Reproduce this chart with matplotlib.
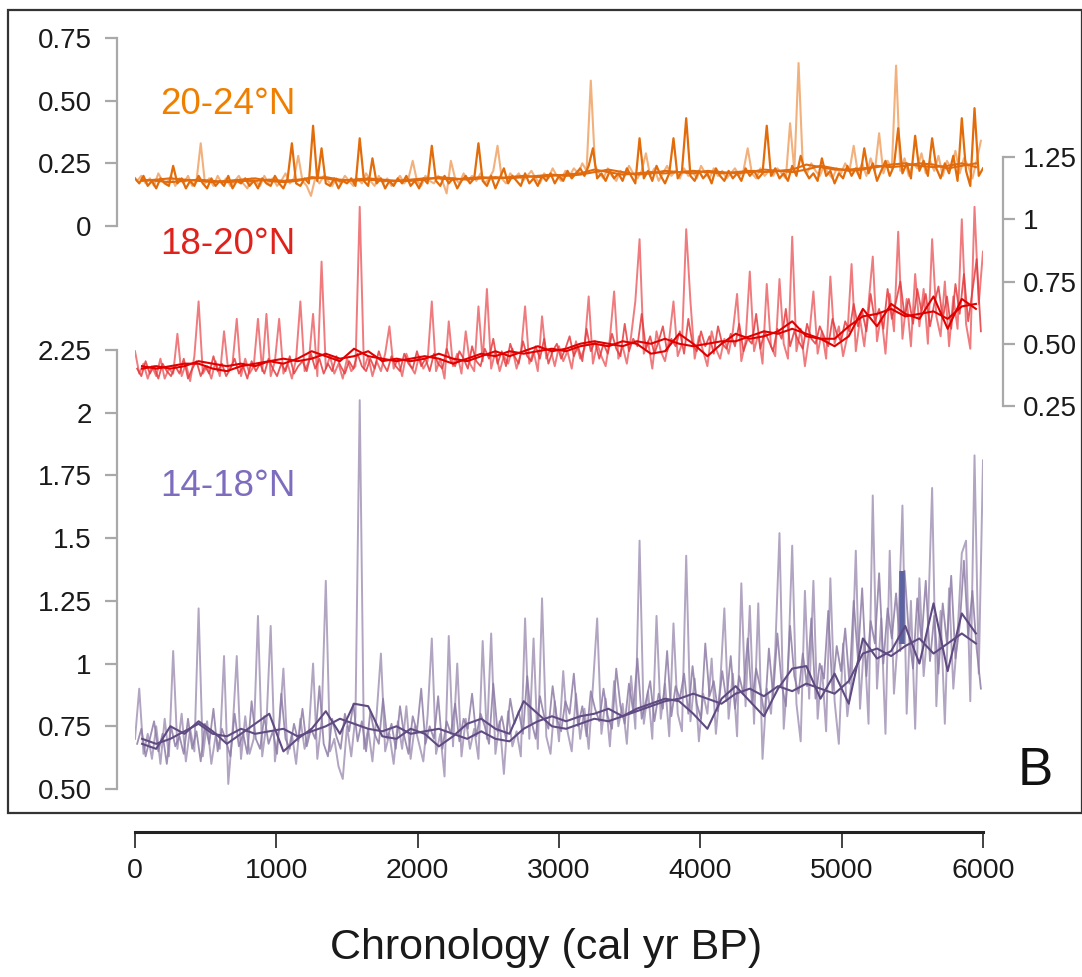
import numpy as np
import matplotlib
matplotlib.use("Agg")
import matplotlib.pyplot as plt
from matplotlib.patches import Rectangle

# canvas size in pixels (dpi 100)
W, H = 1082, 977

# sampling steps (yr BP) of the digitised records
STEP_RAW = 30      # raw series A start at 0, series B start at 15
STEP_SMOOTH = 100  # smoothed series start at 50

# ---- 20-24°N (orange), left axis 0 - 0.75
orange_dark = [
    0.19, 0.17, 0.20, 0.16, 0.18, 0.15, 0.19, 0.17, 0.16, 0.24,
    0.17, 0.19, 0.15, 0.18, 0.16, 0.20, 0.17, 0.15, 0.19, 0.16,
    0.18, 0.16, 0.20, 0.15, 0.18, 0.17, 0.19, 0.16, 0.18, 0.15,
    0.19, 0.17, 0.16, 0.20, 0.17, 0.15, 0.19, 0.33, 0.17, 0.16,
    0.19, 0.17, 0.40, 0.18, 0.31, 0.17, 0.16, 0.19, 0.15, 0.18,
    0.17, 0.19, 0.16, 0.35, 0.18, 0.16, 0.27, 0.17, 0.19, 0.15,
    0.18, 0.16, 0.19, 0.17, 0.20, 0.16, 0.18, 0.15, 0.19, 0.17,
    0.32, 0.18, 0.16, 0.20, 0.17, 0.19, 0.15, 0.18, 0.20, 0.17,
    0.19, 0.33, 0.18, 0.16, 0.20, 0.15, 0.19, 0.23, 0.17, 0.20,
    0.18, 0.16, 0.21, 0.17, 0.19, 0.16, 0.20, 0.18, 0.21, 0.17,
    0.20, 0.18, 0.22, 0.19, 0.21, 0.23, 0.20, 0.24, 0.31, 0.19,
    0.21, 0.18, 0.22, 0.19, 0.21, 0.18, 0.23, 0.20, 0.17, 0.35,
    0.19, 0.22, 0.18, 0.24, 0.20, 0.17, 0.21, 0.35, 0.19, 0.22,
    0.43, 0.20, 0.18, 0.22, 0.19, 0.21, 0.17, 0.23, 0.20, 0.18,
    0.22, 0.19, 0.21, 0.18, 0.23, 0.20, 0.22, 0.19, 0.21, 0.40,
    0.20, 0.23, 0.19, 0.21, 0.18, 0.24, 0.20, 0.28, 0.22, 0.19,
    0.21, 0.18, 0.27, 0.20, 0.22, 0.17, 0.21, 0.19, 0.24, 0.20,
    0.23, 0.19, 0.31, 0.21, 0.25, 0.18, 0.22, 0.26, 0.20, 0.24,
    0.39, 0.21, 0.25, 0.19, 0.36, 0.22, 0.26, 0.20, 0.35, 0.23,
    0.19, 0.25, 0.21, 0.28, 0.18, 0.43, 0.22, 0.16, 0.47, 0.20,
    0.23,
]
orange_light = [
    0.18, 0.20, 0.17, 0.19, 0.16, 0.21, 0.18, 0.17, 0.20, 0.16,
    0.19, 0.17, 0.20, 0.16, 0.18, 0.33, 0.17, 0.19, 0.16, 0.20,
    0.17, 0.19, 0.16, 0.18, 0.20, 0.17, 0.15, 0.19, 0.18, 0.16,
    0.20, 0.17, 0.19, 0.16, 0.18, 0.21, 0.17, 0.19, 0.28, 0.18,
    0.16, 0.12, 0.19, 0.17, 0.20, 0.18, 0.16, 0.19, 0.17, 0.20,
    0.18, 0.16, 0.19, 0.17, 0.21, 0.18, 0.16, 0.20, 0.17, 0.19,
    0.16, 0.18, 0.20, 0.17, 0.19, 0.26, 0.18, 0.16, 0.20, 0.18,
    0.17, 0.20, 0.18, 0.13, 0.26, 0.19, 0.17, 0.21, 0.18, 0.20,
    0.18, 0.21, 0.17, 0.19, 0.22, 0.32, 0.19, 0.17, 0.21, 0.19,
    0.21, 0.18, 0.20, 0.22, 0.19, 0.17, 0.21, 0.19, 0.23, 0.20,
    0.18, 0.22, 0.20, 0.23, 0.21, 0.25, 0.22, 0.58, 0.24, 0.21,
    0.19, 0.23, 0.20, 0.18, 0.22, 0.20, 0.24, 0.21, 0.19, 0.22,
    0.29, 0.20, 0.23, 0.18, 0.21, 0.24, 0.20, 0.22, 0.19, 0.23,
    0.20, 0.22, 0.19, 0.24, 0.21, 0.19, 0.23, 0.20, 0.22, 0.19,
    0.21, 0.23, 0.20, 0.22, 0.31, 0.21, 0.19, 0.23, 0.20, 0.22,
    0.20, 0.23, 0.21, 0.19, 0.41, 0.22, 0.65, 0.24, 0.21, 0.25,
    0.22, 0.20, 0.24, 0.21, 0.19, 0.23, 0.21, 0.25, 0.22, 0.32,
    0.21, 0.25, 0.20, 0.27, 0.22, 0.37, 0.21, 0.26, 0.23, 0.64,
    0.22, 0.27, 0.20, 0.25, 0.23, 0.29, 0.21, 0.26, 0.22, 0.28,
    0.20, 0.26, 0.23, 0.30, 0.21, 0.27, 0.24, 0.19, 0.26, 0.34,
]
orange_smooth1 = [
    0.185, 0.18, 0.175, 0.18, 0.185, 0.18, 0.175, 0.18, 0.18, 0.185,
    0.18, 0.185, 0.19, 0.195, 0.185, 0.18, 0.185, 0.18, 0.18, 0.185,
    0.19, 0.19, 0.185, 0.19, 0.195, 0.19, 0.195, 0.20, 0.195, 0.20,
    0.205, 0.21, 0.225, 0.215, 0.205, 0.21, 0.215, 0.21, 0.215, 0.22,
    0.215, 0.21, 0.215, 0.22, 0.215, 0.22, 0.225, 0.245, 0.235, 0.225,
    0.225, 0.23, 0.235, 0.245, 0.25, 0.24, 0.235, 0.24, 0.25, 0.235,
]
orange_smooth2 = [
    0.18, 0.185, 0.19, 0.185, 0.18, 0.175, 0.18, 0.185, 0.19, 0.18,
    0.175, 0.18, 0.195, 0.19, 0.18, 0.185, 0.19, 0.185, 0.18, 0.18,
    0.185, 0.195, 0.19, 0.185, 0.19, 0.195, 0.19, 0.195, 0.20, 0.205,
    0.20, 0.205, 0.215, 0.225, 0.215, 0.205, 0.21, 0.22, 0.215, 0.21,
    0.22, 0.215, 0.21, 0.215, 0.225, 0.22, 0.215, 0.225, 0.24, 0.23,
    0.22, 0.225, 0.24, 0.235, 0.24, 0.25, 0.245, 0.23, 0.24, 0.25,
]

# ---- 18-20°N (red), right axis 0.25 - 1.25
red_light = [
    0.47, 0.38, 0.42, 0.36, 0.41, 0.37, 0.44, 0.36, 0.40, 0.38,
    0.54, 0.37, 0.42, 0.35, 0.45, 0.67, 0.38, 0.41, 0.36, 0.43,
    0.37, 0.55, 0.39, 0.42, 0.60, 0.37, 0.44, 0.38, 0.41, 0.60,
    0.39, 0.62, 0.37, 0.43, 0.60, 0.38, 0.42, 0.36, 0.44, 0.67,
    0.39, 0.43, 0.62, 0.37, 0.83, 0.40, 0.45, 0.38, 0.42, 0.36,
    0.44, 0.39, 0.41, 1.05, 0.40, 0.45, 0.37, 0.43, 0.39, 0.46,
    0.57, 0.40, 0.44, 0.37, 0.46, 0.41, 0.38, 0.45, 0.40, 0.43,
    0.67, 0.39, 0.44, 0.36, 0.59, 0.41, 0.46, 0.38, 0.55, 0.42,
    0.39, 0.65, 0.43, 0.72, 0.40, 0.47, 0.39, 0.45, 0.42, 0.48,
    0.40, 0.46, 0.65, 0.42, 0.47, 0.39, 0.61, 0.44, 0.48, 0.41,
    0.49, 0.43, 0.47, 0.40, 0.51, 0.44, 0.48, 0.69, 0.42, 0.50,
    0.45, 0.41, 0.52, 0.71, 0.44, 0.49, 0.42, 0.53, 0.67, 0.92,
    0.46, 0.51, 0.40, 0.55, 0.47, 0.43, 0.52, 0.67, 0.45, 0.50,
    0.96, 0.67, 0.44, 0.53, 0.47, 0.41, 0.55, 0.48, 0.44, 0.52,
    0.46, 0.55, 0.70, 0.43, 0.51, 0.79, 0.47, 0.54, 0.42, 0.74,
    0.49, 0.45, 0.76, 0.50, 0.44, 0.93, 0.47, 0.56, 0.41, 0.53,
    0.71, 0.46, 0.55, 0.44, 0.77, 0.50, 0.57, 0.45, 0.53, 0.82,
    0.47, 0.60, 0.49, 0.66, 0.85, 0.51, 0.62, 0.46, 0.70, 0.55,
    0.95, 0.52, 0.68, 0.49, 0.78, 0.57, 0.72, 0.50, 0.92, 0.61,
    0.53, 0.75, 0.49, 0.69, 0.56, 1.00, 0.58, 0.48, 1.05, 0.66,
    0.87,
]
red_mid = [
    0.40, 0.37, 0.43, 0.38, 0.41, 0.36, 0.42, 0.39, 0.37, 0.41,
    0.38, 0.44, 0.36, 0.40, 0.43, 0.37, 0.41, 0.38, 0.45, 0.39,
    0.42, 0.37, 0.40, 0.44, 0.38, 0.41, 0.36, 0.43, 0.39, 0.42,
    0.38, 0.44, 0.40, 0.37, 0.42, 0.39, 0.45, 0.38, 0.41, 0.43,
    0.39, 0.46, 0.40, 0.44, 0.38, 0.42, 0.39, 0.45, 0.41, 0.38,
    0.43, 0.40, 0.46, 0.41, 0.39, 0.44, 0.40, 0.47, 0.42, 0.39,
    0.45, 0.41, 0.39, 0.46, 0.42, 0.40, 0.47, 0.41, 0.44, 0.39,
    0.46, 0.42, 0.40, 0.48, 0.43, 0.41, 0.47, 0.44, 0.40, 0.49,
    0.43, 0.41, 0.48, 0.44, 0.52, 0.42, 0.47, 0.41, 0.50, 0.45,
    0.42, 0.51, 0.45, 0.43, 0.49, 0.44, 0.52, 0.42, 0.47, 0.50,
    0.44, 0.48, 0.53, 0.45, 0.49, 0.43, 0.56, 0.47, 0.51, 0.44,
    0.50, 0.46, 0.54, 0.48, 0.45, 0.58, 0.47, 0.52, 0.49, 0.62,
    0.48, 0.53, 0.46, 0.51, 0.57, 0.47, 0.52, 0.49, 0.55, 0.46,
    0.60, 0.50, 0.47, 0.55, 0.49, 0.53, 0.46, 0.57, 0.50, 0.48,
    0.54, 0.49, 0.58, 0.47, 0.52, 0.50, 0.62, 0.48, 0.55, 0.51,
    0.47, 0.56, 0.52, 0.64, 0.49, 0.55, 0.51, 0.48, 0.58, 0.52,
    0.50, 0.57, 0.53, 0.49, 0.60, 0.54, 0.51, 0.59, 0.55, 0.66,
    0.57, 0.63, 0.55, 0.70, 0.59, 0.64, 0.56, 0.72, 0.60, 0.67,
    0.75, 0.61, 0.68, 0.58, 0.72, 0.63, 0.70, 0.57, 0.66, 0.73,
    0.60, 0.69, 0.56, 0.74, 0.62, 0.78, 0.59, 0.71, 0.84, 0.55,
]
red_smooth1 = [
    0.41, 0.40, 0.41, 0.42, 0.42, 0.40, 0.39, 0.41, 0.42, 0.43,
    0.42, 0.44, 0.47, 0.45, 0.43, 0.48, 0.45, 0.44, 0.43, 0.44,
    0.45, 0.44, 0.42, 0.44, 0.46, 0.45, 0.47, 0.46, 0.47, 0.48,
    0.47, 0.49, 0.50, 0.49, 0.51, 0.50, 0.46, 0.47, 0.54, 0.50,
    0.45, 0.50, 0.54, 0.52, 0.53, 0.55, 0.59, 0.53, 0.52, 0.49,
    0.53, 0.64, 0.57, 0.66, 0.62, 0.60, 0.69, 0.56, 0.68, 0.64,
]
red_smooth2 = [
    0.40, 0.41, 0.40, 0.41, 0.43, 0.42, 0.41, 0.42, 0.41, 0.43,
    0.44, 0.43, 0.44, 0.46, 0.44, 0.45, 0.47, 0.43, 0.44, 0.43,
    0.44, 0.46, 0.44, 0.43, 0.45, 0.47, 0.45, 0.47, 0.49, 0.47,
    0.48, 0.50, 0.51, 0.50, 0.49, 0.51, 0.50, 0.52, 0.50, 0.49,
    0.50, 0.51, 0.51, 0.53, 0.55, 0.54, 0.56, 0.54, 0.52, 0.52,
    0.57, 0.61, 0.62, 0.64, 0.61, 0.62, 0.63, 0.60, 0.65, 0.66,
]

# ---- 14-18°N (purple), left axis 0.50 - 2.25
purple_light = [
    0.70, 0.90, 0.64, 0.72, 0.62, 0.75, 0.60, 0.78, 0.63, 1.05,
    0.66, 0.80, 0.61, 0.74, 0.65, 1.22, 0.63, 0.77, 0.60, 0.71,
    0.66, 1.03, 0.52, 0.73, 1.03, 0.62, 0.79, 0.64, 0.70, 1.19,
    0.63, 0.76, 1.15, 0.61, 0.74, 0.98, 0.64, 0.72, 0.60, 0.78,
    0.66, 0.73, 1.00, 0.62, 0.77, 1.33, 0.65, 0.70, 0.59, 0.54,
    0.75, 0.63, 0.79, 2.05, 0.66, 0.74, 0.61, 0.80, 1.04, 0.65,
    0.72, 0.60, 0.77, 0.66, 0.83, 0.62, 0.75, 0.68, 0.61, 0.79,
    1.10, 0.64, 0.72, 0.55, 1.11, 0.67, 1.00, 0.63, 0.78, 0.66,
    0.74, 0.62, 1.09, 0.70, 1.12, 0.64, 0.77, 0.56, 0.81, 0.67,
    0.73, 0.63, 1.18, 0.70, 1.10, 0.66, 1.26, 0.71, 0.64, 0.85,
    0.69, 0.97, 0.73, 0.65, 0.88, 0.70, 0.82, 0.66, 0.91, 1.18,
    0.72, 0.86, 0.67, 0.93, 0.75, 0.84, 0.68, 0.95, 0.74, 1.49,
    0.76, 0.89, 0.70, 1.19, 0.78, 0.92, 0.71, 1.16, 0.80, 0.73,
    1.43, 0.77, 0.94, 0.69, 0.88, 0.80, 1.02, 0.72, 0.91, 1.22,
    0.78, 0.96, 0.71, 1.32, 0.83, 1.23, 0.76, 1.24, 0.62, 0.90,
    0.80, 1.05, 1.52, 0.74, 0.97, 1.47, 0.84, 0.69, 1.29, 0.86,
    1.33, 0.78, 0.99, 0.73, 1.34, 0.85, 0.68, 1.08, 0.79, 0.93,
    1.45, 0.82, 1.10, 0.76, 1.67, 0.90, 1.18, 0.72, 1.45, 0.88,
    1.12, 1.63, 0.80, 1.25, 0.74, 1.34, 0.95, 1.15, 1.70, 0.83,
    1.21, 0.76, 1.30, 0.90, 1.12, 1.44, 1.49, 0.85, 1.83, 0.96,
    1.81,
]
purple_mid = [
    0.68, 0.74, 0.63, 0.70, 0.77, 0.65, 0.72, 0.60, 0.75, 0.67,
    0.71, 0.64, 0.78, 0.66, 0.73, 0.61, 0.76, 0.68, 0.82, 0.65,
    0.74, 0.69, 0.63, 0.80, 0.67, 0.72, 0.64, 0.85, 0.70, 0.66,
    0.79, 0.68, 0.73, 0.64, 0.88, 0.70, 0.66, 0.76, 0.69, 0.82,
    0.67, 0.74, 0.70, 0.91, 0.68, 0.63, 0.78, 0.71, 0.66, 0.80,
    0.73, 0.84, 0.69, 0.77, 0.65, 0.81, 0.72, 0.68, 0.86, 0.70,
    0.76, 0.66, 0.83, 0.71, 0.64, 0.79, 0.73, 0.90, 0.68, 0.75,
    0.70, 0.87, 0.66, 0.77, 0.72, 0.84, 0.69, 0.78, 0.74, 0.88,
    0.71, 0.80, 0.75, 0.68, 0.92, 0.73, 0.79, 0.70, 0.86, 0.76,
    0.81, 0.72, 0.95, 0.77, 0.70, 0.87, 0.79, 0.74, 0.91, 0.78,
    0.73, 0.85, 0.80, 0.96, 0.75, 0.83, 0.71, 0.89, 0.82, 0.77,
    0.90, 0.79, 0.74, 0.98, 0.83, 0.76, 0.92, 0.81, 1.02, 0.78,
    0.85, 0.93, 0.77, 0.88, 0.82, 1.05, 0.79, 0.91, 0.86, 0.96,
    0.80, 0.99, 0.84, 0.78, 1.08, 0.87, 0.93, 0.81, 0.97, 0.85,
    1.03, 0.82, 0.95, 0.88, 1.10, 0.84, 0.98, 0.90, 0.79, 1.06,
    0.87, 1.12, 0.92, 0.83, 1.15, 0.95, 0.88, 1.04, 0.91, 1.18,
    0.86, 1.00, 0.94, 1.21, 0.89, 1.07, 0.97, 1.14, 0.92, 1.25,
    1.02, 1.30, 0.95, 1.17, 1.08, 1.36, 1.00, 1.22, 1.10, 1.28,
    1.05, 1.37, 1.12, 0.98, 1.26, 1.09, 1.33, 1.01, 1.19, 0.96,
    1.24, 1.08, 1.35, 1.02, 1.15, 1.41, 1.11, 1.29, 1.06, 0.90,
]
purple_smooth1 = [
    0.68, 0.66, 0.75, 0.72, 0.77, 0.73, 0.68, 0.72, 0.76, 0.80,
    0.65, 0.70, 0.74, 0.81, 0.72, 0.84, 0.83, 0.71, 0.70, 0.74,
    0.72, 0.67, 0.71, 0.76, 0.78, 0.74, 0.72, 0.85, 0.80, 0.75,
    0.74, 0.76, 0.78, 0.77, 0.79, 0.82, 0.84, 0.86, 0.85, 0.80,
    0.74, 0.86, 0.91, 0.85, 0.79, 0.90, 0.98, 0.99, 0.86, 0.96,
    0.84, 1.10, 1.02, 1.05, 1.15, 1.00, 1.24, 0.97, 1.20, 1.12,
]
purple_smooth2 = [
    0.70, 0.68, 0.70, 0.73, 0.76, 0.72, 0.71, 0.74, 0.72, 0.73,
    0.74, 0.71, 0.73, 0.75, 0.78, 0.76, 0.74, 0.73, 0.75, 0.72,
    0.73, 0.74, 0.72, 0.70, 0.73, 0.70, 0.69, 0.74, 0.77, 0.79,
    0.77, 0.79, 0.80, 0.82, 0.79, 0.81, 0.83, 0.85, 0.86, 0.88,
    0.86, 0.84, 0.88, 0.90, 0.87, 0.91, 0.89, 0.92, 0.90, 0.88,
    0.93, 1.04, 1.06, 1.03, 1.07, 1.10, 1.04, 1.08, 1.12, 1.08,
]
# short dark bar inside the purple record
purple_bar_t = [5430, 5430]
purple_bar_v = [1.08, 1.37]

# axis tick labels
top_ticks = [0, 0.25, 0.5, 0.75]
top_labels = ["0", "0.25", "0.50", "0.75"]
mid_ticks = [0.25, 0.5, 0.75, 1.0, 1.25]
mid_labels = ["0.25", "0.50", "0.75", "1", "1.25"]
bot_ticks = [0.5, 0.75, 1.0, 1.25, 1.5, 1.75, 2.0, 2.25]
bot_labels = ["0.50", "0.75", "1", "1.25", "1.5", "1.75", "2", "2.25"]
x_ticks = [0, 1000, 2000, 3000, 4000, 5000, 6000]

GREY = "#a9a9a9"
plt.rcParams["font.family"] = ["Liberation Sans", "DejaVu Sans"]


def t_raw(vals, start):
    return start + STEP_RAW * np.arange(len(vals))


def t_smooth(vals):
    return 50 + STEP_SMOOTH * np.arange(len(vals))


def fx(px):
    return px / W


def fy(py):
    return 1 - py / H


def panel_axes(y_top, y_bot):
    # y_top / y_bot: pixel rows of the upper and lower axis limits
    return fig.add_axes([fx(135), fy(y_bot), fx(983) - fx(135), (y_bot - y_top) / H])


def style_axis(ax, side, lo, hi, ticks, labels, pad, outward):
    ax.set_xlim(0, 6000)
    ax.set_ylim(lo, hi)
    ax.patch.set_visible(False)
    for s in ["top", "bottom", "left", "right"]:
        ax.spines[s].set_visible(s == side)
    ax.spines[side].set_position(("outward", outward))
    ax.spines[side].set_color(GREY)
    ax.spines[side].set_linewidth(1.6)
    ax.set_xticks([])
    ax.set_yticks(ticks)
    ax.set_yticklabels(labels)
    ax.tick_params(axis="y", left=(side == "left"), labelleft=(side == "left"),
                   right=(side == "right"), labelright=(side == "right"),
                   length=8.6, width=1.6, color=GREY, labelsize=20,
                   labelcolor="#1a1a1a", pad=pad)


fig = plt.figure(figsize=(W / 100, H / 100), dpi=100)

# outer frame
fig.patches.append(Rectangle((fx(8), fy(813)), fx(1082) - fx(8), fy(10) - fy(813),
                             transform=fig.transFigure, fill=False,
                             edgecolor="#333333", linewidth=1.6))

# top panel
ax1 = panel_axes(38, 226)
style_axis(ax1, "left", 0, 0.75, top_ticks, top_labels, 9.5, 13)
ax1.plot(t_raw(orange_light, 15), orange_light, color="#f2b07c", lw=1.5)
ax1.plot(t_raw(orange_dark, 0), orange_dark, color="#e36c0a", lw=1.6)
ax1.plot(t_smooth(orange_smooth1), orange_smooth1, color="#e06a0c", lw=1.5)
ax1.plot(t_smooth(orange_smooth2), orange_smooth2, color="#e06a0c", lw=1.5)

# middle panel
ax2 = panel_axes(157, 406)
style_axis(ax2, "right", 0.25, 1.25, mid_ticks, mid_labels, 5.5, 14.4)
ax2.plot(t_raw(red_light, 0), red_light, color="#ef7b7e", lw=1.4)
ax2.plot(t_raw(red_mid, 15), red_mid, color="#e4393c", lw=1.3, alpha=0.85)
ax2.plot(t_smooth(red_smooth1), red_smooth1, color="#e00000", lw=1.5)
ax2.plot(t_smooth(red_smooth2), red_smooth2, color="#e00000", lw=1.5)

# bottom panel
ax3 = panel_axes(350, 789)
style_axis(ax3, "left", 0.5, 2.25, bot_ticks, bot_labels, 9.5, 13)
ax3.plot(t_raw(purple_light, 0), purple_light, color="#b1a5c2", lw=1.4)
ax3.plot(t_raw(purple_mid, 15), purple_mid, color="#8d7ca6", lw=1.3, alpha=0.85)
ax3.plot(purple_bar_t, purple_bar_v, color="#5d62a0", lw=4, solid_capstyle="butt")
ax3.plot(t_smooth(purple_smooth1), purple_smooth1, color="#5f4a82", lw=1.5)
ax3.plot(t_smooth(purple_smooth2), purple_smooth2, color="#5f4a82", lw=1.5)

# shared time axis below the frame
axx = fig.add_axes([fx(135), fy(832), fx(983) - fx(135), 0.01])
axx.set_xlim(0, 6000)
axx.patch.set_visible(False)
for s in ["top", "left", "right"]:
    axx.spines[s].set_visible(False)
axx.spines["bottom"].set_linewidth(2.2)
axx.spines["bottom"].set_color("#222222")
axx.set_yticks([])
axx.set_xticks(x_ticks)
axx.set_xticklabels([str(v) for v in x_ticks])
axx.tick_params(axis="x", length=11.5, width=1.2, color="#222222", labelsize=20.5,
                labelcolor="#1a1a1a", pad=7)

# labels
fig.text(fx(160), fy(105), "20-24°N", color="#f07f00", fontsize=26.5, va="center", ha="left")
fig.text(fx(160), fy(244), "18-20°N", color="#e0221c", fontsize=26.5, va="center", ha="left")
fig.text(fx(160), fy(487), "14-18°N", color="#7e6dbf", fontsize=26.5, va="center", ha="left")
fig.text(fx(1018), fy(771), "B", color="#111111", fontsize=38, va="center", ha="left")
fig.text(fx(546), fy(948), "Chronology (cal yr BP)", color="#1a1a1a", fontsize=31,
         va="center", ha="center")

fig.savefig("out.png", dpi=100)
